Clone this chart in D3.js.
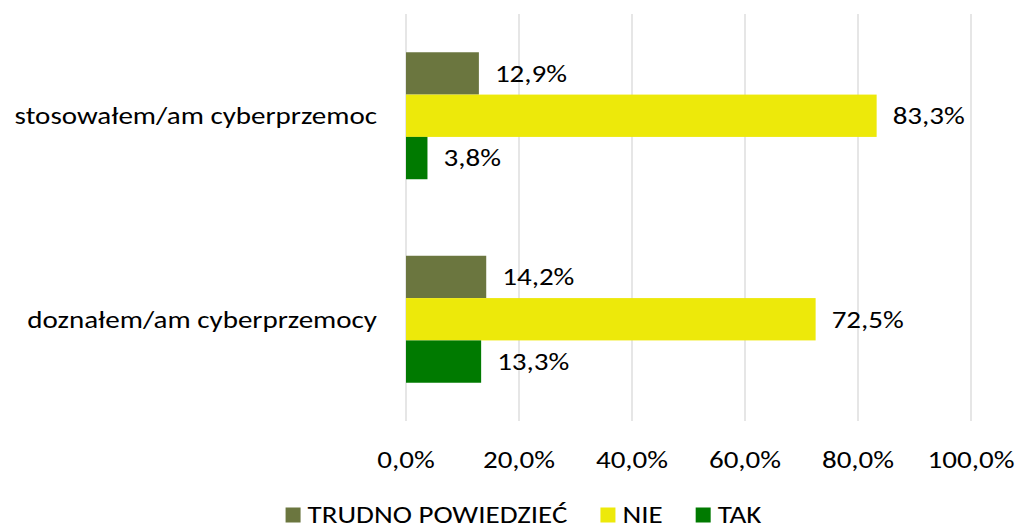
<!DOCTYPE html>
<html>
<head>
<meta charset="utf-8">
<script src="https://cdn.jsdelivr.net/npm/d3@7"></script>
<style>
  body { margin: 0; background: #fff; }
  text { font-family: Carlito, Lato, "Open Sans", sans-serif; fill: #000; }
</style>
</head>
<body>
<div id="chart"></div>
<script>
// dane
const categories = ["stosowałem/am cyberprzemoc", "doznałem/am cyberprzemocy"];
const seriesNames = ["TRUDNO POWIEDZIEĆ", "NIE", "TAK"];
const trudnoValues = [12.9, 14.2];
const nieValues = [83.3, 72.5];
const takValues = [3.8, 13.3];
const tickValues = [0, 20, 40, 60, 80, 100];
const seriesColors = ["#6b763f", "#ede90a", "#007a00"];

function init() {
    const w = 1016;
    const h = 529;
    const left = 406, right = 971; // zakres osi X
    const top = 14, bottom = 421;  // zakres osi Y
    const fontSize = 24;
    const sx = 1.21; // poszerzenie tekstu jak w oryginale

    const svg = d3.select("#chart")
        .append("svg")
        .attr("width", w)
        .attr("height", h);

    const rows = categories.map((c, i) => ({
        category: c,
        values: [trudnoValues[i], nieValues[i], takValues[i]]
    }));

    const xScale = d3.scaleLinear().domain([0, 100]).range([left, right]);
    const yScale = d3.scaleBand()
        .domain(categories)
        .range([top, bottom])
        .paddingInner(0.376)
        .paddingOuter(0.188);
    const ySub = d3.scaleBand()
        .domain(seriesNames)
        .range([0, yScale.bandwidth()]);

    const fmt = v => d3.format(".1f")(v).replace(".", ",") + "%";
    const place = (x, y) => `translate(${x},${y}) scale(${sx},1)`;

    // pionowe linie siatki
    svg.append("g")
        .selectAll("line")
        .data(tickValues)
        .join("line")
        .attr("x1", d => xScale(d))
        .attr("x2", d => xScale(d))
        .attr("y1", top)
        .attr("y2", bottom)
        .attr("stroke", "#d9d9d9")
        .attr("stroke-width", 1.3);

    // słupki
    const groups = svg.selectAll("g.cat")
        .data(rows)
        .join("g")
        .attr("class", "cat")
        .attr("transform", d => `translate(0,${yScale(d.category)})`);

    groups.selectAll("rect")
        .data(d => d.values.map((v, j) => ({ key: seriesNames[j], value: v, color: seriesColors[j] })))
        .join("rect")
        .attr("x", xScale(0))
        .attr("y", d => ySub(d.key))
        .attr("width", d => xScale(d.value) - xScale(0))
        .attr("height", ySub.bandwidth())
        .attr("fill", d => d.color);

    groups.selectAll("text.val")
        .data(d => d.values.map((v, j) => ({ key: seriesNames[j], value: v })))
        .join("text")
        .attr("class", "val")
        .attr("transform", d => place(xScale(d.value) + 16, ySub(d.key) + ySub.bandwidth() / 2))
        .attr("dy", "0.35em")
        .attr("font-size", fontSize)
        .text(d => fmt(d.value));

    // etykiety kategorii
    svg.append("g")
        .selectAll("text")
        .data(categories)
        .join("text")
        .attr("transform", d => place(left - 29, yScale(d) + yScale.bandwidth() / 2))
        .attr("dy", "0.35em")
        .attr("text-anchor", "end")
        .attr("font-size", fontSize)
        .text(d => d);

    // oś X
    svg.append("g")
        .selectAll("text")
        .data(tickValues)
        .join("text")
        .attr("transform", d => place(xScale(d), 460))
        .attr("dy", "0.35em")
        .attr("text-anchor", "middle")
        .attr("font-size", fontSize)
        .text(d => fmt(d));

    // legenda
    const legend = svg.append("g");
    const items = legend.selectAll("g")
        .data(seriesNames)
        .join("g");
    items.append("rect")
        .attr("width", 15)
        .attr("height", 15)
        .attr("y", -7.5)
        .attr("fill", (d, i) => seriesColors[i]);
    items.append("text")
        .attr("transform", place(22, 0))
        .attr("dy", "0.35em")
        .attr("font-size", fontSize)
        .text(d => d);
    let xPos = 0;
    items.each(function () {
        const tw = d3.select(this).select("text").node().getComputedTextLength() * sx;
        d3.select(this).attr("transform", `translate(${xPos},0)`);
        xPos += 22 + tw + 33;
    });
    const legendWidth = xPos - 33;
    legend.attr("transform", `translate(${523.5 - legendWidth / 2},515)`);
}

window.onload = init;
</script>
</body>
</html>
